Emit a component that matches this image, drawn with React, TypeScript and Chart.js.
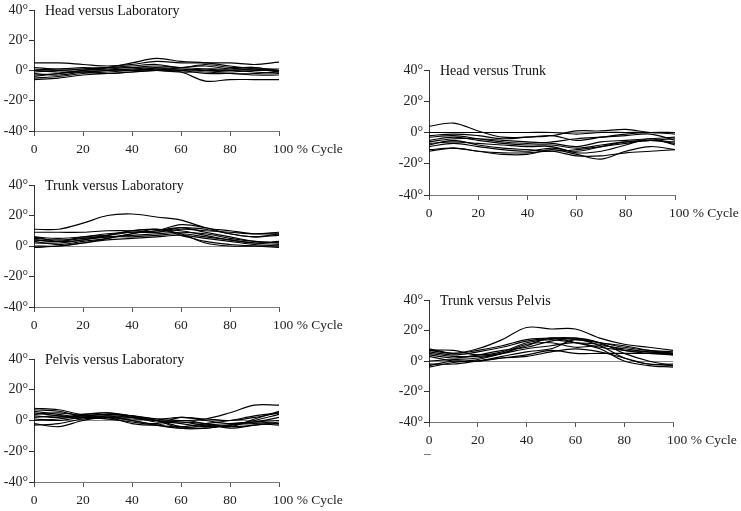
import { useEffect, useRef } from 'react';
import { Chart, registerables } from 'chart.js';

Chart.register(...registerables);

// ---------- data ----------
const cycle = [0, 10, 20, 30, 40, 50, 60, 70, 80, 90, 100];
const xTickValues = [0, 20, 40, 60, 80, 100];
const yTickValues = [-40, -20, 0, 20, 40];
const lastTickLabel = '100 % Cycle';

// Head versus Laboratory
const headLab1 = [5, 5, 4, 3, 4, 6, 5, 5, 5, 4, 5.5];
const headLab2 = [-3, -2, 0, 2, 5, 8, 6, 5, 3, 1, -1];
const headLab3 = [0, 1, 1, 2, 3, 4, 2, 4, 2, 2, 0];
const headLab4 = [-5, -4, -2, -1, 0, 1, -1, -7, -6, -6, -6];
const headLab5 = [-6, -5, -3, -2, -1, 0, 0, -2, -2, -3, -3];
const headLab6 = [1, 0, -1, -2, -1, 0, 1, 0, -1, 0, 0];
const headLab7 = [-1, 0, 1, 2, 2, 1, 0, 1, 1, 2, -1];
const headLab8 = [-2, -3, -1, 0, 1, 2, 1, 0, 0, -1, -2];
const headLab9 = [0, -1, -1, 0, 1, 0, -1, -1, -2, -2, -1];
const headLab10 = [2, 1, 2, 1, 0, 1, 2, 3, 1, 1, 1];
const headLab11 = [-4, -2, 0, 1, 2, 3, 2, 1, 0, 1, 0];

// Head versus Trunk
const headTrunk1 = [4, 6, 1, -3, -3, -2, -5, -3, -1, 0, 0];
const headTrunk2 = [0, 0, 0, 0, 0, 0, -1, 0, 0, 0, -1];
const headTrunk3 = [-2, -1, -2, -4, -3, -2, 1, 1, 2, 0, 0];
const headTrunk4 = [-11, -10, -12, -14, -14, -11, -14, -17, -12, -9, -11];
const headTrunk5 = [-12, -10, -12, -13, -13, -12, -15, -15, -13, -12, -11];
const headTrunk6 = [-5, -3, -5, -7, -8, -8, -10, -8, -6, -5, -4];
const headTrunk7 = [-8, -5, -8, -10, -11, -12, -11, -9, -7, -5, -7];
const headTrunk8 = [-6, -4, -4, -5, -6, -7, -9, -6, -5, -4, -3];
const headTrunk9 = [-3, -2, -4, -6, -7, -6, -4, -3, -2, -1, -5];
const headTrunk10 = [-9, -7, -9, -11, -12, -10, -12, -9, -6, -5, -6];
const headTrunk11 = [-7, -6, -7, -8, -9, -9, -13, -12, -8, -4, -8];

// Trunk versus Laboratory
const trunkLab1 = [11, 11, 15, 20, 21, 19, 17, 12, 10, 8, 8];
const trunkLab2 = [9, 9, 9, 10, 10, 9, 11, 10, 9, 8, 9];
const trunkLab3 = [4, 3, 6, 7, 9, 10, 14, 12, 8, 6, 7];
const trunkLab4 = [6, 3, 4, 7, 10, 11, 8, 2, 0, 0, 0];
const trunkLab5 = [3, 1, 3, 5, 8, 11, 7, 3, 1, 0, -1];
const trunkLab6 = [0, 0, 2, 5, 8, 10, 12, 9, 6, 3, 2];
const trunkLab7 = [5, 4, 5, 7, 10, 11, 10, 7, 4, 2, 3];
const trunkLab8 = [2, 2, 4, 6, 6, 7, 8, 6, 4, 2, 1];
const trunkLab9 = [4, 3, 5, 6, 7, 8, 9, 8, 5, 3, 2];
const trunkLab10 = [-1, 0, 2, 4, 5, 6, 7, 5, 3, 1, 0];
const trunkLab11 = [6, 5, 6, 8, 9, 9, 12, 11, 8, 6, 8];

// Pelvis versus Laboratory
const pelvisLab1 = [7, 6, 3, 4, 3, 1, 0, 1, 5, 10, 10];
const pelvisLab2 = [5, 3, 1, 3, 2, 0, -5, -5, -3, -1, 0];
const pelvisLab3 = [8, 7, 4, 5, 3, 1, 2, 1, 0, 2, 5];
const pelvisLab4 = [3, 2, 4, 5, 2, 0, -1, -3, -4, 1, 6];
const pelvisLab5 = [-2, -4, 0, 2, 0, -3, -5, -3, -2, -1, -2];
const pelvisLab6 = [0, 1, 3, 4, 3, 0, -2, -4, -3, 0, 4];
const pelvisLab7 = [2, 3, 2, 3, 0, -2, 2, 0, -2, -1, 2];
const pelvisLab8 = [-3, -2, 1, 2, 2, -1, -1, -2, -4, -3, -1];
const pelvisLab9 = [4, 5, 3, 1, -1, -3, -4, -2, 0, 3, 5];
const pelvisLab10 = [1, 0, 2, 1, 1, 0, -4, -5, -3, -2, -3];
const pelvisLab11 = [6, 4, 2, 2, -2, -3, 0, -2, -5, -3, -2];

// Trunk versus Pelvis
const trunkPelvis1 = [7, 5, 8, 14, 22, 21, 21, 15, 11, 9, 7];
const trunkPelvis2 = [8, 5, 7, 10, 14, 15, 14, 12, 9, 7, 6];
const trunkPelvis3 = [6, 4, 6, 9, 13, 15, 15, 12, 10, 7, 5];
const trunkPelvis4 = [-4, -1, 1, 5, 10, 15, 12, 8, 0, -3, -4];
const trunkPelvis5 = [-3, 0, 0, 3, 6, 8, 14, 10, 2, -2, -3];
const trunkPelvis6 = [4, 2, 4, 7, 9, 13, 15, 12, 5, 0, -3];
const trunkPelvis7 = [3, 0, 0, 2, 4, 7, 5, 5, 5, 5, 5];
const trunkPelvis8 = [5, 3, 3, 5, 8, 10, 12, 9, 7, 6, 4];
const trunkPelvis9 = [0, 1, 2, 5, 11, 12, 9, 10, 8, 6, 5];
const trunkPelvis10 = [7, 7, 4, 6, 12, 14, 12, 11, 7, 5, 4];
const trunkPelvis11 = [-2, -2, 0, 2, 3, 6, 8, 6, 2, -2, -2];

const headLabSeries = [headLab1, headLab2, headLab3, headLab4, headLab5, headLab6, headLab7, headLab8, headLab9, headLab10, headLab11];
const headTrunkSeries = [headTrunk1, headTrunk2, headTrunk3, headTrunk4, headTrunk5, headTrunk6, headTrunk7, headTrunk8, headTrunk9, headTrunk10, headTrunk11];
const trunkLabSeries = [trunkLab1, trunkLab2, trunkLab3, trunkLab4, trunkLab5, trunkLab6, trunkLab7, trunkLab8, trunkLab9, trunkLab10, trunkLab11];
const pelvisLabSeries = [pelvisLab1, pelvisLab2, pelvisLab3, pelvisLab4, pelvisLab5, pelvisLab6, pelvisLab7, pelvisLab8, pelvisLab9, pelvisLab10, pelvisLab11];
const trunkPelvisSeries = [trunkPelvis1, trunkPelvis2, trunkPelvis3, trunkPelvis4, trunkPelvis5, trunkPelvis6, trunkPelvis7, trunkPelvis8, trunkPelvis9, trunkPelvis10, trunkPelvis11];

const titles = [
  'Head versus Laboratory',
  'Head versus Trunk',
  'Trunk versus Laboratory',
  'Pelvis versus Laboratory',
  'Trunk versus Pelvis',
];

// ---------- layout ----------
const SERIF = '"Liberation Serif", "Times New Roman", serif';
const TOP_PAD = 12;
const X_AXIS_H = 34;

type PanelLayout = { colLeft: number; colWidth: number; areaLeft: number; areaRight: number; top: number; bottom: number; mark?: boolean };

const layouts: PanelLayout[] = [
  { colLeft: 0, colWidth: 345, areaLeft: 34, areaRight: 279, top: 10, bottom: 131 },
  { colLeft: 390, colWidth: 351, areaLeft: 429, areaRight: 675, top: 70, bottom: 195 },
  { colLeft: 0, colWidth: 345, areaLeft: 34, areaRight: 279, top: 185, bottom: 307 },
  { colLeft: 0, colWidth: 345, areaLeft: 34, areaRight: 279, top: 359, bottom: 482 },
  { colLeft: 390, colWidth: 351, areaLeft: 429, areaRight: 673, top: 300, bottom: 422, mark: true },
];

const panelSeries = [headLabSeries, headTrunkSeries, trunkLabSeries, pelvisLabSeries, trunkPelvisSeries];

function Panel({ title, series, layout }: { title: string; series: number[][]; layout: PanelLayout }) {
  const ref = useRef<HTMLCanvasElement | null>(null);
  const width = layout.colWidth;
  const height = TOP_PAD + (layout.bottom - layout.top) + X_AXIS_H;

  useEffect(() => {
    if (!ref.current) return;
    const yAxisW = layout.areaLeft - layout.colLeft;
    const padRight = width - (layout.areaRight - layout.colLeft);

    const decor = {
      id: 'decor' + title.replace(/\s/g, ''),
      afterDraw(chart: any) {
        const ctx = chart.ctx as CanvasRenderingContext2D;
        const xs = chart.scales.x;
        const ys = chart.scales.y;
        ctx.save();
        ctx.fillStyle = '#111';
        ctx.font = `14px ${SERIF}`;
        ctx.textBaseline = 'middle';
        ctx.textAlign = 'left';
        ctx.fillText(title, chart.chartArea.left + 11, ys.getPixelForValue(40) + 1);
        ctx.font = `13.5px ${SERIF}`;
        ctx.fillStyle = '#222';
        ctx.fillText(lastTickLabel, xs.getPixelForValue(100) - 6, chart.chartArea.bottom + 18);
        if (layout.mark) {
          ctx.fillText('\u2013', xs.getPixelForValue(0) - 5, chart.chartArea.bottom + 31);
        }
        ctx.restore();
      },
    };

    const chart = new Chart(ref.current, {
      type: 'line',
      data: {
        labels: cycle,
        datasets: series.map((s, i) => ({
          label: title + ' ' + (i + 1),
          data: s.map((v, j) => ({ x: cycle[j], y: v })),
          borderColor: '#000',
          borderWidth: 1.15,
          pointRadius: 0,
          tension: 0.35,
          fill: false,
        })),
      },
      options: {
        responsive: false,
        animation: false,
        events: [],
        layout: { padding: { top: TOP_PAD, right: padRight, left: 0, bottom: 0 } },
        plugins: { legend: { display: false }, tooltip: { enabled: false }, title: { display: false } },
        scales: {
          x: {
            type: 'linear',
            min: 0,
            max: 100,
            afterFit: (s: any) => { s.height = X_AXIS_H; },
            afterBuildTicks: (s: any) => { s.ticks = xTickValues.map((v) => ({ value: v })); },
            border: { display: true, color: '#777', width: 1 },
            grid: { drawOnChartArea: false, drawTicks: true, tickLength: 5, color: '#555' },
            ticks: {
              padding: 5,
              color: '#222',
              maxRotation: 0,
              autoSkip: false,
              font: { family: SERIF, size: 13.5 },
              callback: (v: any) => (v === 100 ? '' : String(v)),
            },
          },
          y: {
            type: 'linear',
            min: -40,
            max: 40,
            afterFit: (s: any) => { s.width = yAxisW; },
            afterBuildTicks: (s: any) => { s.ticks = yTickValues.map((v) => ({ value: v })); },
            border: { display: true, color: '#333', width: 1 },
            grid: {
              drawOnChartArea: true,
              drawTicks: true,
              tickLength: 5,
              color: (c: any) => (c.tick && c.tick.value === 0 ? '#8a8a8a' : 'rgba(0,0,0,0)'),
              tickColor: '#333',
              lineWidth: 1,
            },
            ticks: {
              padding: 1,
              color: '#222',
              font: { family: SERIF, size: 14 },
              callback: (v: any) => v + '\u00b0',
            },
          },
        },
      },
      plugins: [decor],
    });
    return () => chart.destroy();
  }, [title, series, layout, width]);

  return (
    <canvas
      ref={ref}
      width={width}
      height={height}
      style={{ position: 'absolute', left: layout.colLeft, top: layout.top - TOP_PAD, width, height }}
    />
  );
}

export default function App() {
  return (
    <div style={{ position: 'absolute', left: 0, top: 0, width: 741, height: 511, background: '#fff', overflow: 'hidden' }}>
      {titles.map((t, i) => (
        <Panel key={t} title={t} series={panelSeries[i]} layout={layouts[i]} />
      ))}
    </div>
  );
}
